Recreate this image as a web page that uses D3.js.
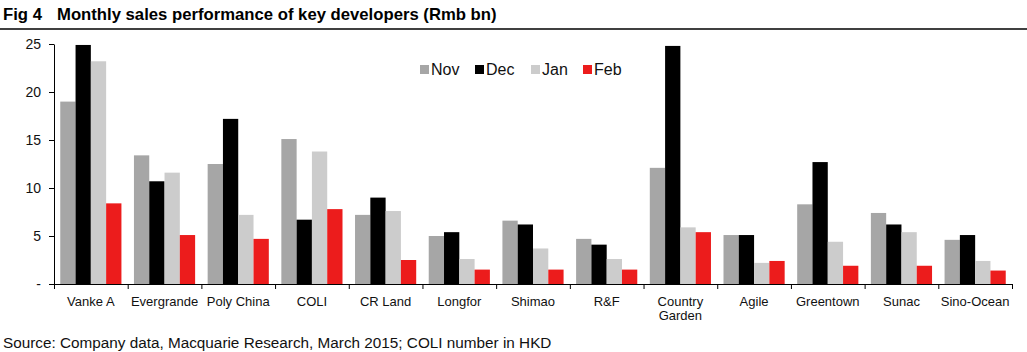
<!DOCTYPE html>
<html>
<head>
<meta charset="utf-8">
<script src="https://cdn.jsdelivr.net/npm/d3@7"></script>
<style>
  body { margin: 0; background: #fff; }
  text { font-family: Arial, "Liberation Sans", sans-serif; }
</style>
</head>
<body>
<script>
const developers = ["Vanke A", "Evergrande", "Poly China", "COLI", "CR Land", "Longfor",
  "Shimao", "R&F", "Country Garden", "Agile", "Greentown", "Sunac", "Sino-Ocean"];
const months = ["Nov", "Dec", "Jan", "Feb"];
const nov = [19.0, 13.4, 12.5, 15.1, 7.2, 5.0, 6.6, 4.7, 12.1, 5.1, 8.3, 7.4, 4.6];
const dec = [24.9, 10.7, 17.2, 6.7, 9.0, 5.4, 6.2, 4.1, 24.8, 5.1, 12.7, 6.2, 5.1];
const jan = [23.2, 11.6, 7.2, 13.8, 7.6, 2.6, 3.7, 2.6, 5.9, 2.2, 4.4, 5.4, 2.4];
const feb = [8.4, 5.1, 4.7, 7.8, 2.5, 1.5, 1.5, 1.5, 5.4, 2.4, 1.9, 1.9, 1.4];
const yTicks = [0, 5, 10, 15, 20, 25];

const series = [nov, dec, jan, feb];
const colors = ["#a6a6a6", "#000000", "#cccccc", "#ec1c1c"];

const W = 1027, H = 352;
const margin = { top: 44, right: 15, bottom: 68, left: 54 };
const width = W - margin.left - margin.right;
const height = H - margin.top - margin.bottom;

const svg = d3.select("body").append("svg")
  .attr("width", W)
  .attr("height", H);

// title + rule
svg.append("text")
  .attr("x", 3).attr("y", 20)
  .attr("font-size", "16.7px").attr("font-weight", "bold")
  .text("Fig 4");
svg.append("text")
  .attr("x", 57).attr("y", 20)
  .attr("font-size", "16.7px").attr("font-weight", "bold")
  .text("Monthly sales performance of key developers (Rmb bn)");
svg.append("line")
  .attr("x1", 0).attr("x2", W)
  .attr("y1", 29).attr("y2", 29)
  .attr("stroke", "#000").attr("stroke-width", 1.5);

const g = svg.append("g")
  .attr("transform", `translate(${margin.left},${margin.top})`);

const x0 = d3.scaleBand()
  .domain(developers)
  .range([0, width])
  .paddingInner(0.17)
  .paddingOuter(0.085);

const x1 = d3.scaleBand()
  .domain(months)
  .range([0, x0.bandwidth()]);

const xEdge = d3.scaleLinear()
  .domain([0, developers.length])
  .range([0, width]);

const y = d3.scaleLinear()
  .domain([0, 25])
  .range([height, 0]);

// bars
const groups = g.selectAll("g.dev")
  .data(developers)
  .join("g")
  .attr("class", "dev")
  .attr("transform", d => `translate(${x0(d)},0)`);

groups.selectAll("rect")
  .data((d, i) => months.map((m, j) => ({ m, v: series[j][i], c: colors[j] })))
  .join("rect")
  .attr("x", d => x1(d.m))
  .attr("y", d => y(d.v))
  .attr("width", x1.bandwidth())
  .attr("height", d => height - y(d.v))
  .attr("fill", d => d.c);

// y axis
const yAxis = g.append("g")
  .call(d3.axisLeft(y)
    .tickValues(yTicks)
    .tickSize(5)
    .tickSizeOuter(0)
    .tickFormat(d => d === 0 ? "-" : d));
yAxis.select(".domain").attr("stroke", "#000");
yAxis.selectAll("text")
  .attr("font-size", "14px")
  .attr("font-family", "Arial, 'Liberation Sans', sans-serif")
  .attr("fill", "#111")
  .attr("x", -13);

// x axis (ticks at category boundaries)
const xAxis = g.append("g")
  .attr("transform", `translate(0,${height})`)
  .call(d3.axisBottom(xEdge)
    .tickValues(d3.range(0, developers.length + 1))
    .tickSize(5)
    .tickSizeOuter(0)
    .tickFormat(""));
xAxis.select(".domain").attr("stroke", "#000");

// category labels
const labels = g.append("g")
  .selectAll("text")
  .data(developers)
  .join("text")
  .attr("x", d => x0(d) + x0.bandwidth() / 2)
  .attr("y", height + 22)
  .attr("text-anchor", "middle")
  .attr("font-size", "13px")
  .attr("fill", "#111");

labels.each(function (d) {
  const t = d3.select(this);
  const parts = d === "Country Garden" ? ["Country", "Garden"] : [d];
  parts.forEach((p, i) => {
    t.append("tspan")
      .attr("x", x0(d) + x0.bandwidth() / 2)
      .attr("dy", i === 0 ? 0 : 14)
      .text(p);
  });
});

// legend
const legendX = [420, 475, 531, 583];
const legend = svg.append("g");
months.forEach((m, i) => {
  legend.append("rect")
    .attr("x", legendX[i]).attr("y", 65)
    .attr("width", 9).attr("height", 9)
    .attr("fill", colors[i]);
  legend.append("text")
    .attr("x", legendX[i] + 11).attr("y", 75)
    .attr("font-size", "16px")
    .attr("fill", "#111")
    .text(m);
});

// source
svg.append("text")
  .attr("x", 3).attr("y", 348)
  .attr("font-size", "15.3px")
  .attr("fill", "#111")
  .text("Source: Company data, Macquarie Research, March 2015; COLI number in HKD");
</script>
</body>
</html>
